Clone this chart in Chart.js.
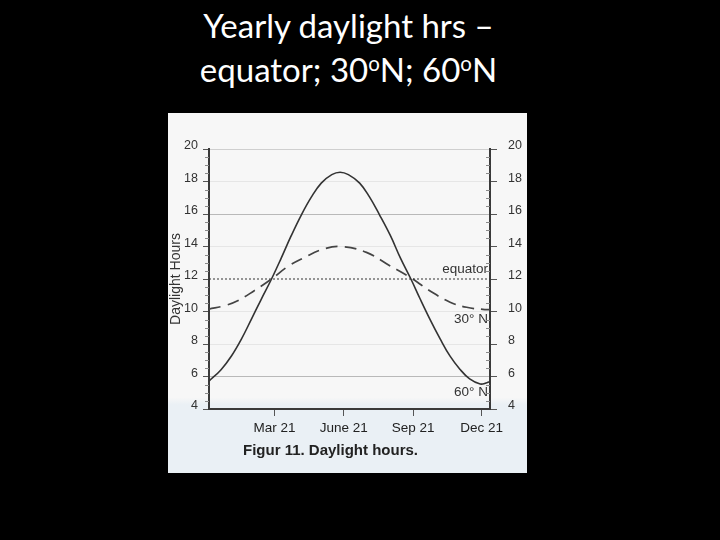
<!DOCTYPE html>
<html>
<head>
<meta charset="utf-8">
<script src="https://cdn.jsdelivr.net/npm/chart.js@4.4.1/dist/chart.umd.min.js"></script>
<style>
  html, body { margin: 0; padding: 0; background: #000; width: 720px; height: 540px; overflow: hidden; }
  #title { position: absolute; left: 0; top: 3px; width: 697px; text-align: center; color: #fff;
           font-family: Lato, "Open Sans", sans-serif; font-size: 33px; line-height: 44px; }
  #title sup { font-size: 0.62em; vertical-align: 0.55em; line-height: 0; }
  #panel { position: absolute; left: 168px; top: 113px; width: 359px; height: 360px;
           background: linear-gradient(#f7f7f7 0%, #f7f7f7 79%, #eaf0f5 81%, #eaf0f5 100%); }
  #panel canvas { position: absolute; left: 0; top: 0; }
  #caption { position: absolute; left: 75px; top: 328px; font-family: "Liberation Sans", Arial, sans-serif;
             font-weight: bold; font-size: 15px; color: #222; white-space: nowrap; }
</style>
</head>
<body>
<div id="title">Yearly daylight hrs –<br>equator; 30<sup>o</sup>N; 60<sup>o</sup>N</div>
<div id="panel">
  <canvas id="c" width="359" height="360"></canvas>
  <div id="caption">Figur 11. Daylight hours.</div>
</div>
<script>
// ---- data ----
const tickDays   = [79, 171, 263, 354];
const tickLabels = ['Mar 21', 'June 21', 'Sep 21', 'Dec 21'];
const seriesNames = ['equator', '30° N', '60° N'];

const daysEquator  = [-8, 365];
const hoursEquator = [12, 12];

const days30  = [-8, 13, 30, 52, 75, 97, 119, 141, 167, 201, 232, 259, 285, 312, 334, 358, 365];
const hours30 = [10.15, 10.36, 10.66, 11.28, 12.0, 12.78, 13.33, 13.8, 14.0, 13.64, 12.82, 12.1, 11.28, 10.57, 10.26, 10.12, 10.12];

const days60  = [-8, 8, 22, 35, 48, 61, 75, 88, 101, 115, 128, 141, 155, 166, 177, 192, 205, 218, 233, 246, 260, 272, 285, 299, 312, 325, 338, 352, 361, 365];
const hours60 = [5.72, 6.42, 7.28, 8.3, 9.5, 10.72, 12.0, 13.3, 14.65, 15.98, 17.05, 17.9, 18.42, 18.57, 18.42, 17.9, 17.05, 15.98, 14.65, 13.3, 12.0, 10.8, 9.55, 8.3, 7.25, 6.45, 5.85, 5.54, 5.62, 5.68];

const pts = (xs, ys) => xs.map((x, i) => ({ x: x, y: ys[i] }));

const gridColor = (v) => {
  if (v === 16 || v === 6) return '#b9b9b9';
  if (v === 20) return '#cfcfcf';
  if (v === 18 || v === 14 || v === 10 || v === 8) return '#e6e6e6';
  return 'rgba(0,0,0,0)';
};

const minorTicks = {
  id: 'minorTicks',
  afterDraw(chart) {
    const ctx = chart.ctx, y = chart.scales.y, a = chart.chartArea;
    ctx.save();
    ctx.strokeStyle = '#8a8a8a';
    ctx.lineWidth = 1;
    for (let v = 4.5; v < 20; v += 0.5) {
      if (v % 2 === 0) continue;
      const py = Math.round(y.getPixelForValue(v)) + 0.5;
      ctx.beginPath();
      ctx.moveTo(a.left - 4, py); ctx.lineTo(a.left, py);
      ctx.moveTo(a.right - 4, py); ctx.lineTo(a.right, py);
      ctx.stroke();
    }
    ctx.restore();
  }
};

const seriesLabels = {
  id: 'seriesLabels',
  afterDatasetsDraw(chart, args, opts) {
    const ctx = chart.ctx, y = chart.scales.y, a = chart.chartArea;
    ctx.save();
    ctx.font = '13.5px "Liberation Sans", Arial, sans-serif';
    ctx.fillStyle = '#333';
    ctx.textAlign = 'right';
    opts.items.forEach((it, i) => {
      ctx.textBaseline = it.base;
      ctx.fillText(seriesNames[i], a.right - 2, y.getPixelForValue(it.at) + it.dy);
    });
    ctx.restore();
  }
};

const tickFont = { family: '"Liberation Sans", Arial, sans-serif', size: 12.5 };

new Chart(document.getElementById('c'), {
  type: 'line',
  data: {
    datasets: [
      { label: seriesNames[0], data: pts(daysEquator, hoursEquator), borderColor: '#333', borderWidth: 1,
        borderDash: [2, 2], pointRadius: 0 },
      { label: seriesNames[1], data: pts(days30, hours30), borderColor: '#444', borderWidth: 1.7,
        borderDash: [12, 7], pointRadius: 0, tension: 0.4 },
      { label: seriesNames[2], data: pts(days60, hours60), borderColor: '#333', borderWidth: 1.6,
        pointRadius: 0, tension: 0.4 }
    ]
  },
  options: {
    responsive: false,
    animation: false,
    layout: { padding: { left: 0, right: 0, top: 36, bottom: 0 } },
    plugins: {
      legend: { display: false },
      tooltip: { enabled: false },
      seriesLabels: { items: [ { at: 12, dy: -3, base: 'bottom' }, { at: 9.5, dy: 0, base: 'middle' }, { at: 5.0, dy: 0, base: 'middle' } ] }
    },
    scales: {
      x: {
        type: 'linear', min: -8, max: 365,
        afterBuildTicks: (s) => { s.ticks = tickDays.map(v => ({ value: v })); },
        afterFit: (s) => { s.height = 64; },
        grid: { drawOnChartArea: false, tickLength: 7, tickColor: '#555', tickWidth: 1 },
        border: { color: '#3a3a3a', width: 2 },
        ticks: { callback: (v) => tickLabels[tickDays.indexOf(v)], padding: 4, maxRotation: 0, autoSkip: false,
                 color: '#222', font: { family: '"Liberation Sans", Arial, sans-serif', size: 13.5 } }
      },
      y: {
        position: 'left', min: 4, max: 20,
        afterBuildTicks: (s) => { const t = []; for (let v = 4; v <= 20; v += 2) t.push({ value: v }); s.ticks = t; },
        afterFit: (s) => { s.width = 41; },
        grid: { color: (c) => gridColor(c.tick.value), tickColor: '#555', tickLength: 6, lineWidth: 1 },
        border: { color: '#3a3a3a', width: 2 },
        ticks: { padding: 5, labelOffset: -3, color: '#333', font: tickFont },
        title: { display: true, text: 'Daylight Hours', color: '#333', padding: { top: 0, bottom: 0 },
                 font: { family: '"Liberation Sans", Arial, sans-serif', size: 14 } }
      },
      y2: {
        position: 'right', min: 4, max: 20,
        afterBuildTicks: (s) => { const t = []; for (let v = 4; v <= 20; v += 2) t.push({ value: v }); s.ticks = t; },
        afterFit: (s) => { s.width = 37; },
        grid: { drawOnChartArea: false, tickColor: '#555', tickLength: 7 },
        border: { color: '#3a3a3a', width: 2 },
        ticks: { padding: 11, labelOffset: -3, color: '#333', font: tickFont }
      }
    }
  },
  plugins: [minorTicks, seriesLabels]
});
</script>
</body>
</html>
